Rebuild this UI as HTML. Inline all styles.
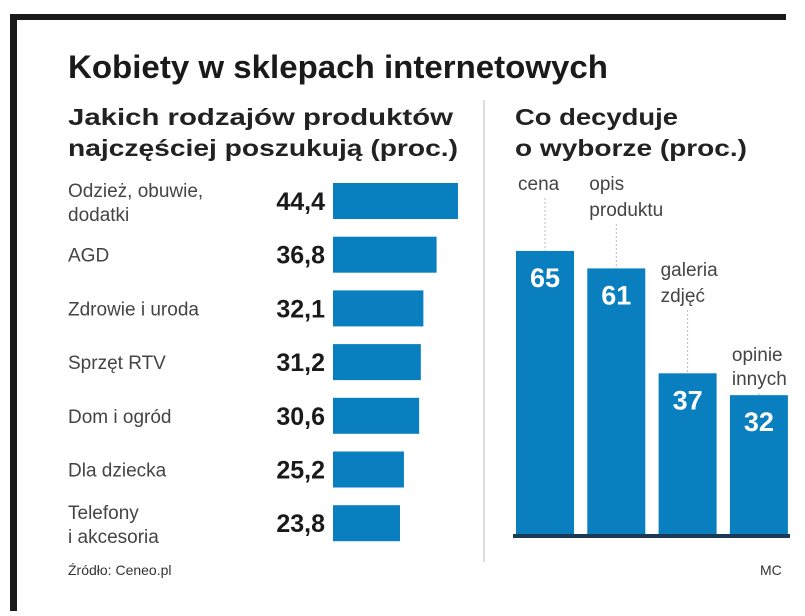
<!DOCTYPE html>
<html><head><meta charset="utf-8"><style>
body{margin:0;background:#fff;font-family:"Liberation Sans",sans-serif;}
svg text{font-family:"Liberation Sans",sans-serif;}
</style></head><body>
<svg width="805" height="611" viewBox="0 0 805 611">
<rect x="10" y="14" width="776" height="6" fill="#1a1a1a"/>
<rect x="10" y="14" width="7" height="597" fill="#1a1a1a"/>
<text x="68" y="78" font-size="32" font-weight="bold" fill="#1a1a1a" textLength="540" lengthAdjust="spacingAndGlyphs">Kobiety w sklepach internetowych</text>
<text x="68" y="125" font-size="23" font-weight="bold" fill="#222" textLength="385" lengthAdjust="spacingAndGlyphs">Jakich rodzajów produktów</text>
<text x="68" y="156" font-size="23" font-weight="bold" fill="#222" textLength="390" lengthAdjust="spacingAndGlyphs">najczęściej poszukują (proc.)</text>
<text x="515" y="125" font-size="23" font-weight="bold" fill="#222" textLength="163" lengthAdjust="spacingAndGlyphs">Co decyduje</text>
<text x="515" y="156" font-size="23" font-weight="bold" fill="#222" textLength="232" lengthAdjust="spacingAndGlyphs">o wyborze (proc.)</text>
<line x1="484" y1="100" x2="484" y2="562" stroke="#ddd" stroke-width="2"/>
<g id="left"></g>
<g id="right"></g>
<rect x="513" y="534" width="277" height="4" fill="#1a3a55"/>
<text x="68" y="575" font-size="14" fill="#333">Źródło: Ceneo.pl</text>
<text x="760" y="575" font-size="14" fill="#333">MC</text>
</svg>
<script>
const catsL=[["Odzież, obuwie,","dodatki"],["AGD"],["Zdrowie i uroda"],["Sprzęt RTV"],["Dom i ogród"],["Dla dziecka"],["Telefony","i akcesoria"]];
const valsL=[44.4,36.8,32.1,31.2,30.6,25.2,23.8];
const labelsL=["44,4","36,8","32,1","31,2","30,6","25,2","23,8"];
const catsR=[["cena"],["opis","produktu"],["galeria","zdjęć"],["opinie","innych"]];
const valsR=[65,61,37,32];
const NS="http://www.w3.org/2000/svg";
function mk(t,a,p){const e=document.createElementNS(NS,t);for(const k in a)e.setAttribute(k,a[k]);p.appendChild(e);return e;}
const L=document.getElementById('left');
const xL=v=>v*2.815, yL=i=>201+i*53.7;
valsL.forEach((v,i)=>{
 const cy=yL(i);
 const r=mk('rect',{x:333,y:cy-18,width:xL(v),height:36,fill:'#0a7fc0'},L);
 
 
 const t=mk('text',{x:325,y:cy+9,'font-size':25,'font-weight':'bold',fill:'#1a1a1a','text-anchor':'end'},L);
 t.textContent=labelsL[i];
 
 
 const c=catsL[i];
 c.forEach((s,j)=>{
  const y=c.length==1?cy+7:cy-4+j*24;
  const l=mk('text',{x:68,y:y,'font-size':19,fill:'#444'},L);
  l.textContent=s;
  
  
 });
});
const R=document.getElementById('right');
const base=535, yR=v=>base-v*4.37;
const lblY=[[190],[190,216],[276,302],[361,385]];
valsR.forEach((v,i)=>{
 const x=516+i*71.3, w=58, top=yR(v);
 const r=mk('rect',{x:x,y:top,width:w,height:base-top,fill:'#0a7fc0'},R);
 
 
 const t=mk('text',{x:x+w/2,y:top+36,'font-size':27,'font-weight':'bold',fill:'#fff','text-anchor':'middle'},R);
 t.textContent=String(v);
 
 
 const ys=lblY[i];
 catsR[i].forEach((s,j)=>{
  const l=mk('text',{x:x+2,y:ys[j],'font-size':19,fill:'#444'},R);
  l.textContent=s;
  
  
 });
 const ln=mk('line',{x1:x+w/2,y1:ys[ys.length-1]+8,x2:x+w/2,y2:top,stroke:'#bbb','stroke-dasharray':'2,2'},R);
 
 
});
</script>
</body></html>
